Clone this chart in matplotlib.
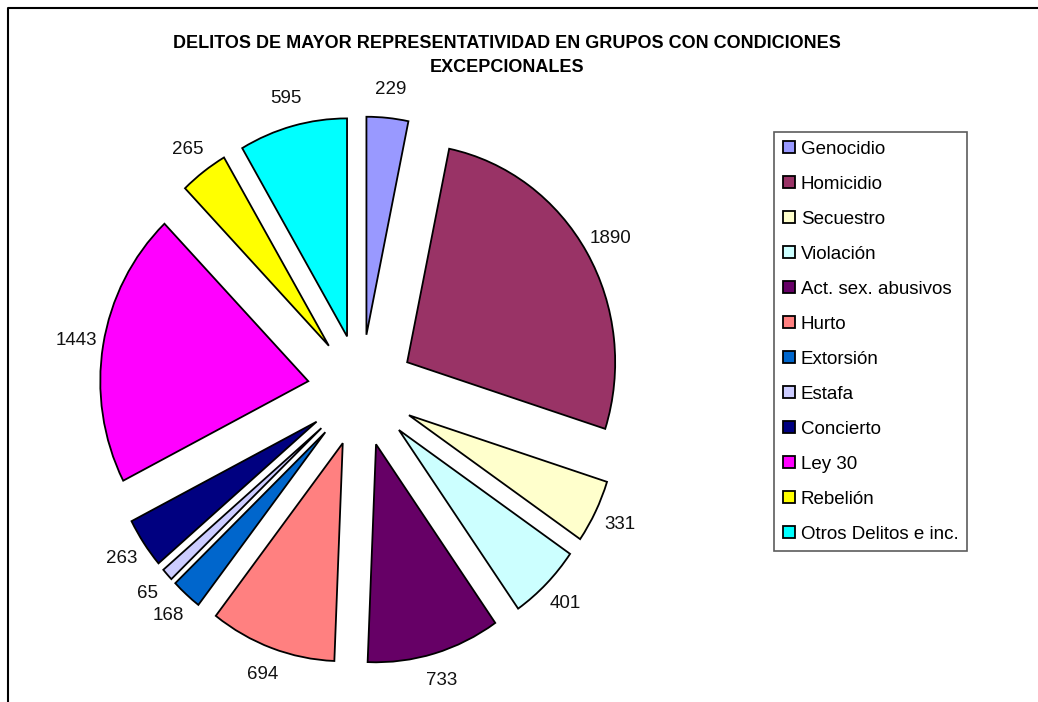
import matplotlib.pyplot as plt
from matplotlib.lines import Line2D

plt.rcParams['font.family'] = ['Liberation Sans', 'DejaVu Sans']

# data
categories = ['Genocidio', 'Homicidio', 'Secuestro', 'Violación', 'Act. sex. abusivos',
              'Hurto', 'Extorsión', 'Estafa', 'Concierto', 'Ley 30', 'Rebelión',
              'Otros Delitos e inc.']
values = [229, 1890, 331, 401, 733, 694, 168, 65, 263, 1443, 265, 595]
colors = ['#9999FF', '#993366', '#FFFFCC', '#CCFFFF', '#660066', '#FF8080',
          '#0066CC', '#CCCCFF', '#000080', '#FF00FF', '#FFFF00', '#00FFFF']
title_lines = ['DELITOS DE MAYOR REPRESENTATIVIDAD EN GRUPOS CON CONDICIONES',
               'EXCEPCIONALES']

# layout (pixels)
W, H = 1038, 702
cx, cy = 361, 390.5      # pie centre
rx, ry = 208, 218        # pixels per unit (excel stretched it a bit)
lim = 1.6

fig = plt.figure(figsize=(W / 100, H / 100), dpi=100)
ax = fig.add_axes([(cx - lim * rx) / W, (H - cy - lim * ry) / H,
                   2 * lim * rx / W, 2 * lim * ry / H])

wedges, texts = ax.pie(values, colors=colors, startangle=90, counterclock=False,
                       explode=[0.257] * len(values),
                       labels=[str(v) for v in values], labeldistance=1.13,
                       wedgeprops=dict(edgecolor='black', linewidth=1.3),
                       textprops=dict(fontsize=13.5, color='#111111'))
for t in texts:
    t.set_ha('center')
    t.set_va('center')
ax.set_aspect('auto')
ax.set_xlim(-lim, lim)
ax.set_ylim(-lim, lim)
ax.axis('off')

# title
fig.text(507 / W, 1 - 43 / H, title_lines[0], ha='center', va='center',
         fontsize=13, fontweight='bold')
fig.text(507 / W, 1 - 68 / H, title_lines[1], ha='center', va='center',
         fontsize=13, fontweight='bold')

# legend
leg = fig.legend(wedges, categories, loc='upper left',
                 bbox_to_anchor=(774 / W, 1 - 132 / H), borderaxespad=0,
                 fontsize=13.5, fancybox=False, frameon=True,
                 labelspacing=0.96, handlelength=0.64, handleheight=0.64,
                 handletextpad=0.32, borderpad=0.46)
leg.get_frame().set_edgecolor('#333333')
leg.get_frame().set_linewidth(1.2)

# chart area border (left and top visible)
fig.add_artist(Line2D([8 / W, 8 / W, 1], [0, 1 - 8 / H, 1 - 8 / H],
                      transform=fig.transFigure, color='black', linewidth=1.5))

fig.savefig('out.png', dpi=100)
